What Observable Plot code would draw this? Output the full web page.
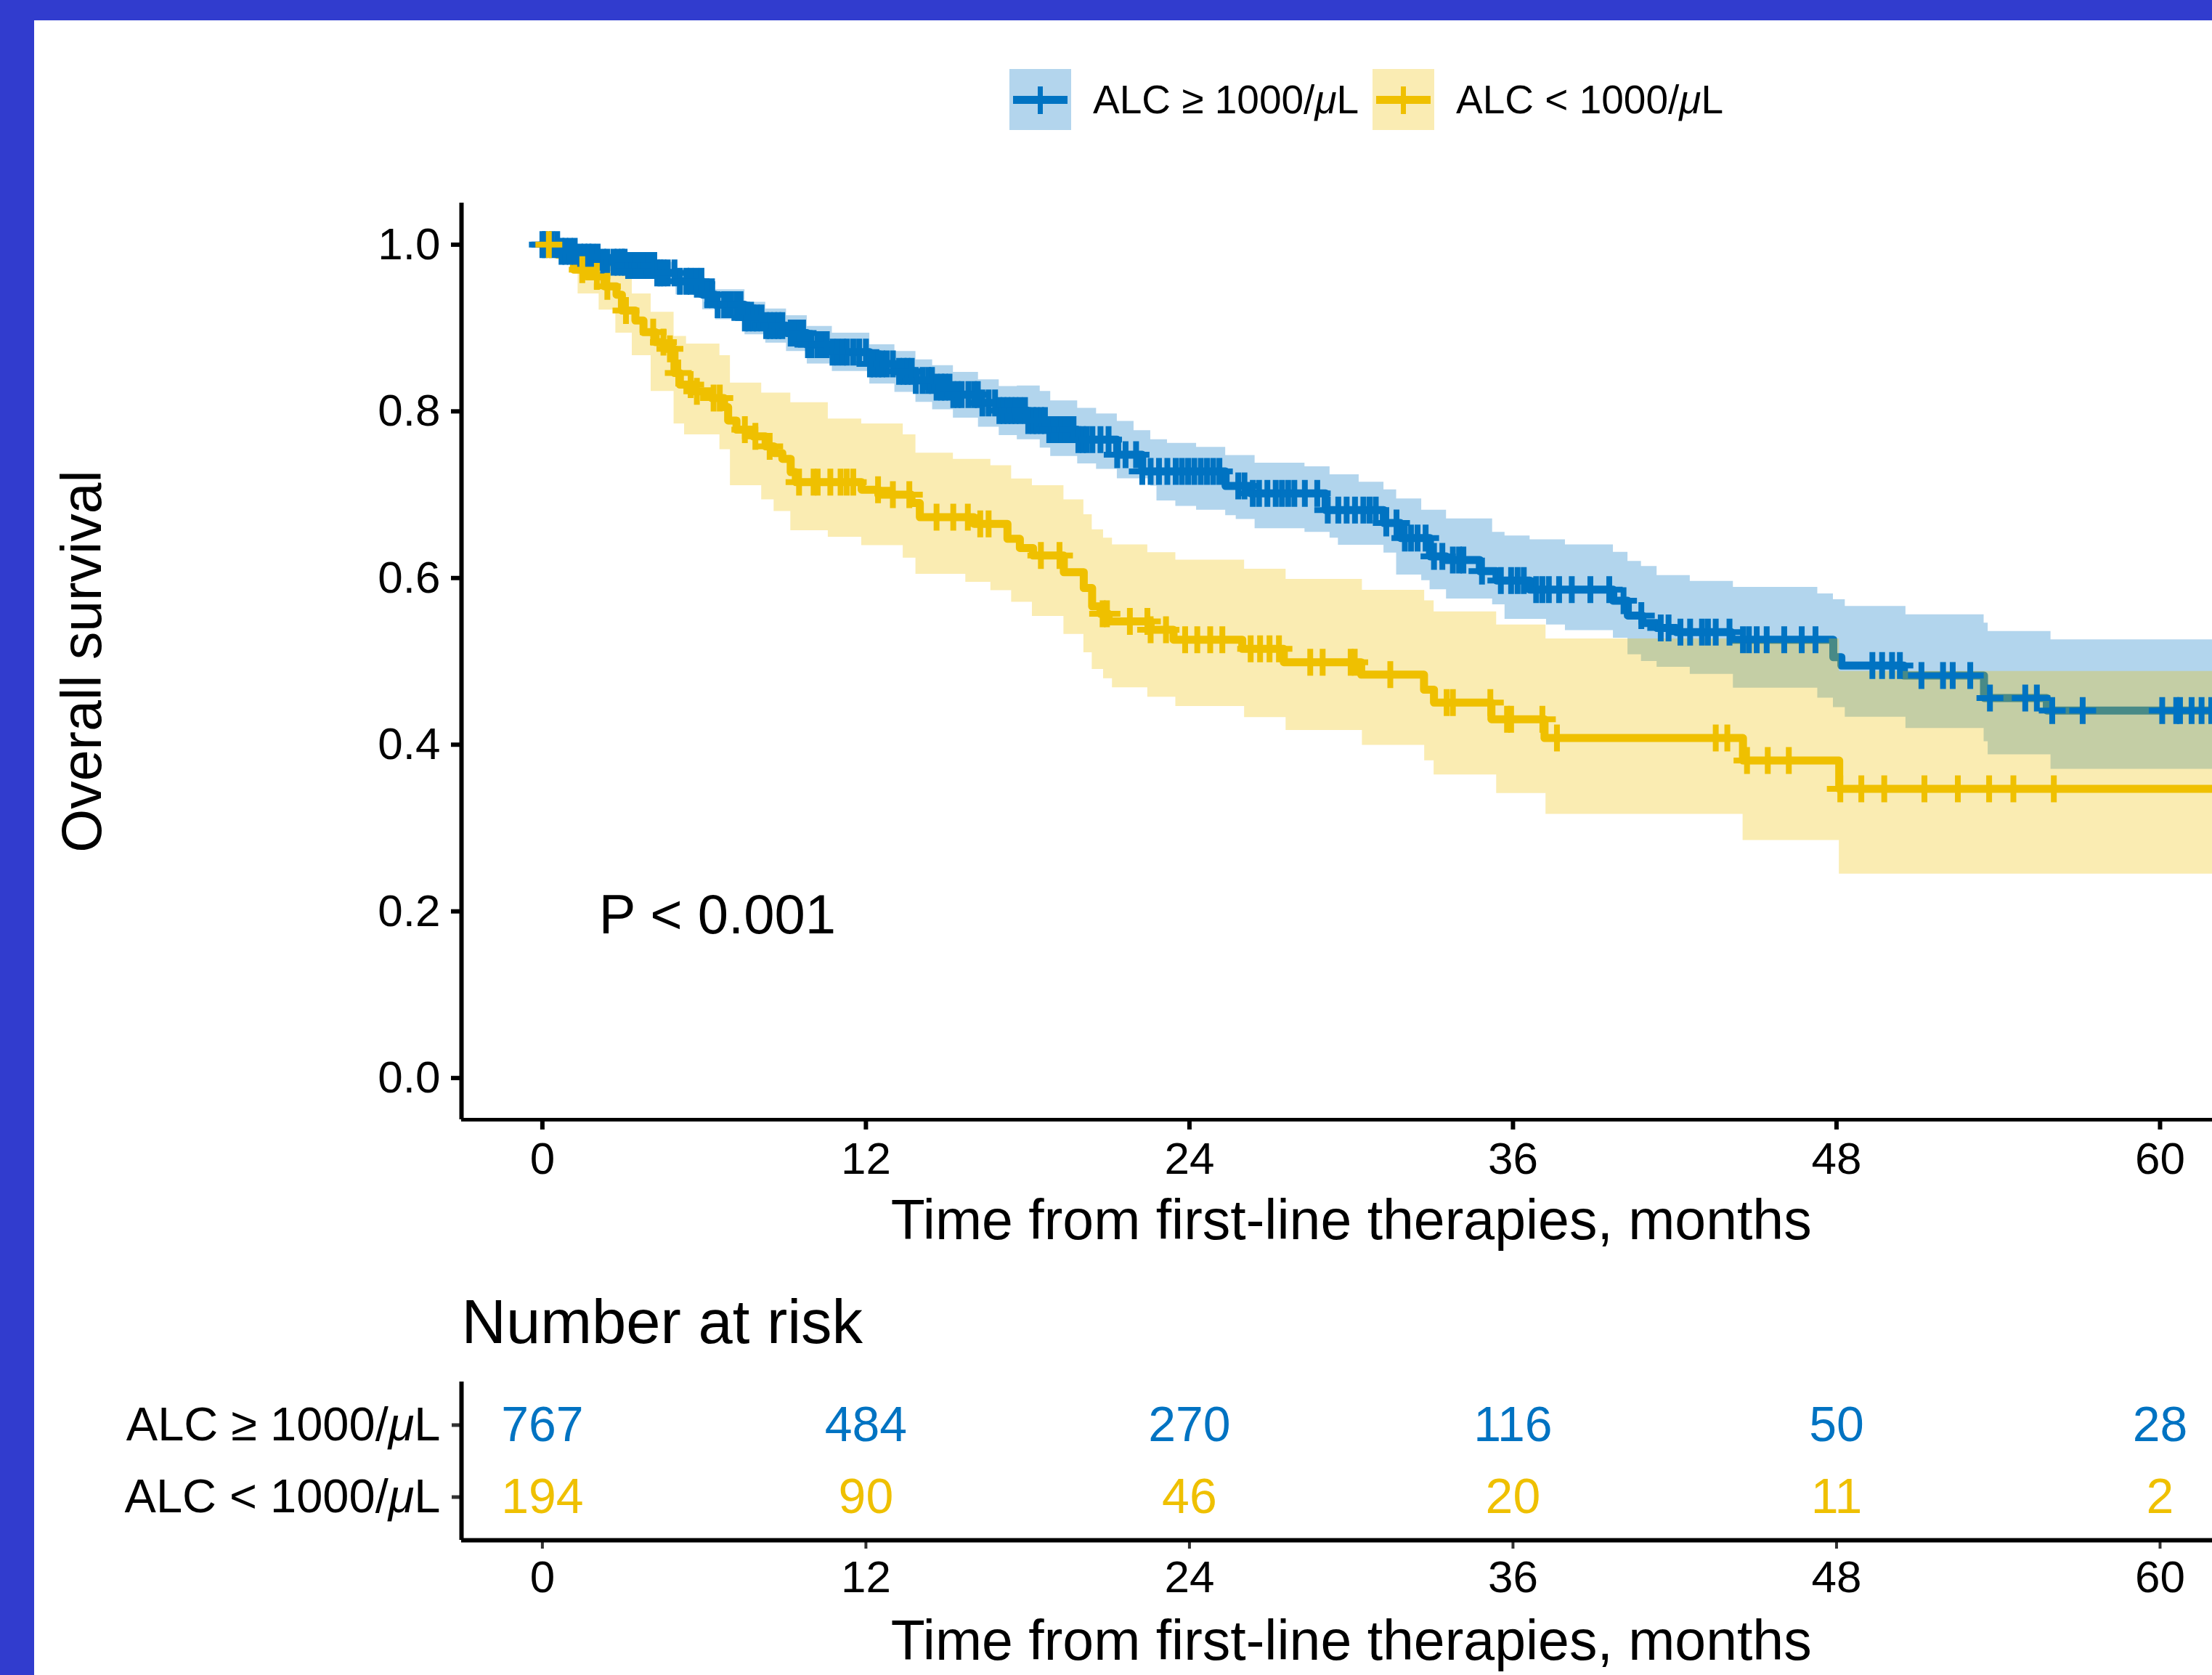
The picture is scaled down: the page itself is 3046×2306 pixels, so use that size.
<!DOCTYPE html>
<html>
<head>
<meta charset="utf-8">
<script src="https://cdn.jsdelivr.net/npm/d3@7"></script>
<script src="https://cdn.jsdelivr.net/npm/@observablehq/plot@0.6"></script>
<style>
  html, body { margin: 0; padding: 0; background: #ffffff; overflow: hidden; }
  #wrap { position: relative; width: 3046px; height: 2306px; overflow: hidden; background: #ffffff;
          font-family: "Liberation Sans", Arial, Helvetica, sans-serif; }
  #wrap > svg { display: block; }
  .bar { position: absolute; background: #313CCE; }
  .leg { position: absolute; top: 95px; height: 84px; display: flex; align-items: center;
         font-size: 55px; color: #000; white-space: nowrap; }
  .leg svg { display: block; margin-right: 30px; }
</style>
</head>
<body>
<div id="wrap"></div>
<script>
// ---------------- DATA ----------------
const groups = ["ALC \u2265 1000/\u03bcL", "ALC < 1000/\u03bcL"];
const colors = ["#0073C2", "#EFC000"];

const xTicks = [0, 12, 24, 36, 48, 60];
const yTicks = [0, 0.2, 0.4, 0.6, 0.8, 1.0];

const xTitle = "Time from first-line therapies, months";
const yTitle = "Overall survival";
const riskTitle = "Number at risk";
const pValue = [{label: "P < 0.001", time: 2.1, surv: 0.195}];

// Kaplan-Meier step curve, ALC >= 1000 : [months, survival]
const blueCurve = [
  [0,1],[0.7,0.992],[1.3,0.985],[2.2,0.979],[3.15,0.975],[4.2,0.966],[4.95,0.956],[5.94,0.94],
  [6.42,0.928],[7.51,0.912],[8.28,0.903],[9.05,0.894],[9.82,0.880],[10.75,0.871],[12.14,0.857],
  [13.07,0.848],[13.85,0.837],[14.47,0.829],[15.24,0.820],[16.17,0.810],[16.94,0.801],[18.0,0.789],
  [18.69,0.778],[19.85,0.766],[21.32,0.748],[22.25,0.728],[25.34,0.7105],[26.27,0.7016],[29.05,0.6816],
  [31.21,0.666],[31.83,0.648],[32.92,0.626],[33.53,0.6216],[34.77,0.6083],[35.39,0.597],[36.63,0.586],
  [39.72,0.5727],[40.26,0.555],[40.8,0.546],[41.34,0.540],[42.06,0.535],[44.1,0.526],[47.88,0.505],
  [48.18,0.495],[50.5,0.483],[53.47,0.456],[55.8,0.441],[63,0.441]
];
// 95% CI band, ALC >= 1000 : [months, lower, upper]
const blueBand = [
  [0,1,1],[0.7,0.985,0.998],[1.3,0.976,0.993],[2.2,0.968,0.989],[3.15,0.962,0.986],[4.2,0.952,0.979],
  [4.95,0.940,0.971],[5.94,0.922,0.956],[6.42,0.910,0.946],[7.51,0.892,0.931],[8.28,0.882,0.923],
  [9.05,0.872,0.915],[9.82,0.857,0.902],[10.75,0.848,0.894],[12.14,0.833,0.880],[13.07,0.823,0.872],
  [13.85,0.811,0.862],[14.47,0.802,0.855],[15.24,0.792,0.847],[16.17,0.781,0.838],[16.94,0.771,0.830],
  [17.61,0.766,0.8305],[18.46,0.756,0.824],[18.85,0.746,0.8127],[19.85,0.737,0.8038],[20.55,0.7305,0.797],
  [21.32,0.7193,0.788],[21.94,0.7193,0.777],[22.56,0.7105,0.766],[22.79,0.6927,0.766],[23.18,0.6927,0.7616],
  [23.49,0.686,0.7616],[24.26,0.6816,0.757],[25.34,0.675,0.747],[25.73,0.6705,0.747],[26.43,0.6594,0.738],
  [28.28,0.655,0.7336],[29.21,0.648,0.724],[29.52,0.6394,0.724],[30.29,0.6394,0.715],[31.21,0.630,0.706],
  [31.68,0.6038,0.695],[32.61,0.597,0.6816],[32.92,0.586,0.6816],[33.53,0.575,0.671],[35.24,0.568,0.655],
  [35.7,0.5505,0.6505],[36.63,0.5505,0.646],[37.24,0.5438,0.646],[37.94,0.537,0.640],[39.72,0.528,0.631],
  [40.26,0.508,0.62],[40.76,0.500,0.614],[41.34,0.493,0.603],[42.57,0.4846,0.596],[44.17,0.468,0.589],
  [47.3,0.456,0.581],[47.88,0.4446,0.574],[48.32,0.433,0.566],[50.57,0.4196,0.556],[53.47,0.4036,0.546],
  [53.62,0.388,0.536],[55.95,0.3706,0.526],[63,0.3706,0.526]
];
// censoring times, ALC >= 1000
const blueCensor = [
  0.0,0.09,0.35,0.55,0.71,0.85,1.02,1.2,1.4,1.56,1.71,1.85,2.05,2.25,2.41,2.64,2.79,2.95,3.05,3.18,3.33,
  3.45,3.57,3.7,3.80,3.92,4.03,4.15,4.26,4.38,4.49,4.65,4.9,5.1,5.34,5.5,5.7,5.9,6.12,6.3,6.5,6.74,6.89,
  7.0,7.2,7.35,7.51,7.65,7.82,7.95,8.13,8.3,8.44,8.6,8.75,8.9,9.21,9.35,9.52,9.67,9.85,9.98,10.2,10.37,
  10.55,10.76,10.95,11.15,11.3,11.53,11.75,12.0,12.15,12.3,12.46,12.6,12.77,13.0,13.23,13.4,13.54,13.7,
  13.85,14.1,14.31,14.45,14.62,14.8,14.93,15.1,15.24,15.4,15.55,15.8,16.01,16.15,16.32,16.55,16.79,
  16.95,17.1,17.25,17.4,17.55,17.71,17.9,18.02,18.2,18.33,18.5,18.64,18.8,18.95,19.1,19.26,19.4,19.57,
  19.7,19.88,20.05,20.19,20.4,20.7,21.0,21.32,21.63,22.02,22.25,22.56,22.87,23.18,23.49,
  23.72,23.95,24.18,24.42,24.65,24.88,25.11,25.81,26.04,26.35,26.58,26.89,27.2,27.43,27.66,27.89,28.28,
  28.74,29.13,29.52,29.83,30.14,30.45,30.68,30.91,31.3,31.68,31.99,32.22,32.46,32.76,33.07,33.38,33.77,
  34.0,34.16,34.85,35.55,35.93,36.17,36.4,36.86,37.09,37.33,37.71,38.18,38.87,39.57,40.1,40.76,41.48,
  41.77,42.21,42.57,43.01,43.23,43.52,44.03,44.53,44.75,45.04,45.41,46.06,46.71,47.22,49.33,49.69,50.06,
  50.35,51.15,51.95,52.31,52.96,53.69,55.0,55.43,56.0,57.13,60.08,60.6,60.74,61.17,61.54,61.9
];

// Kaplan-Meier step curve, ALC < 1000 : [months, survival]
const yellowCurve = [
  [0,1],[0.55,0.988],[1.17,0.970],[1.63,0.962],[2.3,0.950],[2.75,0.940],[2.95,0.921],[3.45,0.909],
  [3.75,0.895],[4.2,0.883],[4.5,0.875],[4.9,0.846],[5.1,0.832],[5.65,0.824],[6.27,0.816],[6.74,0.805],
  [6.89,0.789],[7.2,0.778],[7.82,0.770],[8.28,0.758],[8.59,0.750],[8.9,0.743],[9.21,0.727],[9.4,0.715],
  [11.84,0.706],[12.46,0.700],[13.69,0.690],[14.0,0.673],[16.01,0.665],[17.25,0.647],[17.71,0.636],
  [18.2,0.627],[19.34,0.607],[20.08,0.588],[20.39,0.566],[20.7,0.557],[21.0,0.548],[22.56,0.538],
  [23.41,0.526],[25.96,0.515],[27.5,0.499],[30.37,0.484],[32.7,0.466],[33.07,0.4505],[35.2,0.4305],
  [37.17,0.408],[44.53,0.381],[48.1,0.347],[63,0.347]
];
// 95% CI band, ALC < 1000 : [months, lower, upper]
const yellowBand = [
  [0,1,1],[0.71,0.982,1.0],[1.32,0.941,0.995],[1.94,0.941,0.9855],[2.10,0.9216,0.9855],[2.72,0.894,0.975],
  [2.87,0.894,0.964],[3.33,0.867,0.941],[4.03,0.824,0.919],[4.88,0.785,0.890],[5.27,0.772,0.890],
  [5.34,0.772,0.881],[6.58,0.754,0.867],[6.97,0.711,0.834],[8.13,0.694,0.822],[8.59,0.680,0.822],
  [9.21,0.657,0.8105],[10.6,0.649,0.791],[11.84,0.639,0.785],[13.38,0.624,0.772],[13.85,0.6045,0.750],
  [15.24,0.6045,0.7425],[15.7,0.595,0.7425],[16.63,0.585,0.735],[17.4,0.571,0.719],[18.17,0.554,0.711],
  [19.34,0.5325,0.694],[20.08,0.5105,0.676],[20.39,0.4904,0.658],[20.81,0.4794,0.648],[21.14,0.4683,0.640],
  [22.45,0.4571,0.6306],[23.49,0.446,0.6216],[26.04,0.4327,0.6106],[27.58,0.4172,0.5984],[30.41,0.3994,0.5854],
  [32.72,0.3807,0.5727],[33.07,0.3638,0.5594],[35.39,0.3416,0.5438],[37.22,0.3165,0.527],[44.53,0.2852,0.527],
  [48.1,0.2448,0.488],[63,0.2448,0.488]
];
// censoring times, ALC < 1000
const yellowCensor = [
  0.24,1.48,2.02,2.41,3.10,4.11,4.49,4.73,5.04,5.50,5.73,6.35,6.58,7.51,7.90,8.43,9.52,10.06,10.21,10.68,
  11.06,11.29,11.53,12.45,13.0,13.61,14.62,15.24,15.78,16.24,16.55,18.49,19.18,20.78,20.94,21.79,22.44,
  22.56,23.13,23.84,24.29,24.77,25.22,26.27,26.62,26.97,27.32,28.48,28.94,29.98,30.13,31.45,33.54,33.77,
  35.16,35.78,35.93,37.09,37.63,43.52,43.95,44.68,45.45,46.23,48.14,48.92,49.77,51.26,52.5,53.66,54.56,56.06
];

// number at risk table
const riskTimes = [0, 12, 24, 36, 48, 60];
const riskHigh = [767, 484, 270, 116, 50, 28];
const riskLow = [194, 90, 46, 20, 11, 2];

// ---------------- DRAWING ----------------
(function () {
const FONT = "Liberation Sans, Arial, Helvetica, sans-serif";
const xDomain = [-3, 61.94];          // visible part of the panel (ggplot expands 0..60 by 5%)
const xTitleAt = d3.mean([-3, 63]);   // centre of the full expanded panel

function survivalAt(curve, t) {
  let v = curve[0][1];
  for (const [tt, s] of curve) { if (tt <= t) v = s; else break; }
  return v;
}
const crossSymbol = {
  draw(ctx, size) {
    const h = Math.sqrt(size / Math.PI);
    ctx.moveTo(-h, 0); ctx.lineTo(h, 0);
    ctx.moveTo(0, -h); ctx.lineTo(0, h);
  }
};
const T = d => d[0];

const mainPlot = Plot.plot({
  width: 3046, height: 1742,
  marginLeft: 635, marginRight: 0, marginTop: 279, marginBottom: 201,
  style: {fontFamily: FONT, background: "transparent", overflow: "visible", color: "#000"},
  x: {domain: xDomain},
  y: {domain: [-0.05, 1.05]},
  marks: [
    Plot.line(blueCurve, {x: T, y: d => d[1], curve: "step-after", stroke: colors[0], strokeWidth: 11, strokeLinejoin: "round"}),
    Plot.line(yellowCurve, {x: T, y: d => d[1], curve: "step-after", stroke: colors[1], strokeWidth: 11, strokeLinejoin: "round"}),
    Plot.areaY(blueBand, {x: T, y1: d => d[1], y2: d => d[2], curve: "step-after", fill: colors[0], fillOpacity: 0.3}),
    Plot.areaY(yellowBand, {x: T, y1: d => d[1], y2: d => d[2], curve: "step-after", fill: colors[1], fillOpacity: 0.3}),
    Plot.dot(blueCensor, {x: d => d, y: d => survivalAt(blueCurve, d), symbol: crossSymbol, r: 18.5, fill: "none", stroke: colors[0], strokeWidth: 8}),
    Plot.dot(yellowCensor, {x: d => d, y: d => survivalAt(yellowCurve, d), symbol: crossSymbol, r: 18.5, fill: "none", stroke: colors[1], strokeWidth: 8}),
    Plot.axisX({ticks: xTicks, tickSize: 14, tickPadding: 16, fontSize: 62, strokeWidth: 6, label: null}),
    Plot.axisY({ticks: yTicks, tickFormat: d3.format(".1f"), tickSize: 14, tickPadding: 15, fontSize: 62, strokeWidth: 6, label: null}),
    Plot.ruleX([xDomain[0]], {stroke: "#000", strokeWidth: 6}),
    Plot.ruleY([-0.05], {stroke: "#000", strokeWidth: 5}),
    Plot.text(pValue, {x: "time", y: "surv", text: "label", textAnchor: "start", lineAnchor: "middle", fontSize: 76, fill: "#000"}),
    Plot.text([xTitle], {x: xTitleAt, frameAnchor: "bottom", lineAnchor: "middle", textAnchor: "middle", dy: 140, fontSize: 77, fill: "#000"}),
    Plot.text([yTitle], {frameAnchor: "left", lineAnchor: "middle", textAnchor: "middle", dx: -521, rotate: -90, fontSize: 77, fill: "#000"})
  ]
});

const rowHigh = riskTimes.map((t, i) => ({time: t, n: riskHigh[i]}));
const rowLow = riskTimes.map((t, i) => ({time: t, n: riskLow[i]}));

const riskPlot = Plot.plot({
  width: 3046, height: 564,
  marginLeft: 635, marginRight: 0, marginTop: 160, marginBottom: 186,
  style: {fontFamily: FONT, background: "transparent", overflow: "visible", color: "#000"},
  x: {domain: xDomain},
  y: {domain: [0.4, 2.6]},
  marks: [
    Plot.text(rowHigh, {x: "time", y: () => 2, text: "n", fill: colors[0], fontSize: 68}),
    Plot.text(rowLow, {x: "time", y: () => 1, text: "n", fill: colors[1], fontSize: 68}),
    Plot.axisX({ticks: xTicks, tickSize: 12, tickPadding: 15, fontSize: 62, stroke: "#333", strokeWidth: 4, fill: "#000", label: null}),
    Plot.axisY({ticks: [1, 2], tickFormat: d => groups[2 - d], tickSize: 13, tickPadding: 16, fontSize: 65, stroke: "#333", strokeWidth: 5, fill: "#000", label: null}),
    Plot.ruleX([xDomain[0]], {stroke: "#000", strokeWidth: 6}),
    Plot.ruleY([0.4], {stroke: "#000", strokeWidth: 6}),
    Plot.text([xTitle], {x: xTitleAt, frameAnchor: "bottom", lineAnchor: "middle", textAnchor: "middle", dy: 140, fontSize: 77, fill: "#000"}),
    Plot.text([riskTitle], {frameAnchor: "top-left", lineAnchor: "middle", textAnchor: "start", dy: -81, fontSize: 85, fill: "#000"})
  ]
});

// italic mu, as in the original plotmath labels
riskPlot.querySelectorAll("text").forEach(t => {
  const s = t.textContent;
  if (s.includes("\u03bc") && t.querySelectorAll("tspan").length === 0) {
    const [a, b] = s.split("\u03bc");
    t.textContent = "";
    t.appendChild(document.createTextNode(a));
    const ts = document.createElementNS("http://www.w3.org/2000/svg", "tspan");
    ts.setAttribute("font-style", "italic");
    ts.textContent = "\u03bc";
    t.appendChild(ts);
    t.appendChild(document.createTextNode(b));
  }
});

const wrap = document.getElementById("wrap");
wrap.appendChild(mainPlot);
wrap.appendChild(riskPlot);

// legend (above the plot)
const legendLeft = [1390, 1890];
const lightFill = ["#B3D5ED", "#FAECB3"];
groups.forEach((g, i) => {
  const div = document.createElement("div");
  div.className = "leg";
  div.style.left = legendLeft[i] + "px";
  div.innerHTML =
    `<svg width="85" height="84" viewBox="0 0 85 84">
       <rect x="0" y="0" width="85" height="84" fill="${lightFill[i]}"/>
       <line x1="5" x2="80" y1="42.5" y2="42.5" stroke="${colors[i]}" stroke-width="11"/>
       <line x1="42.5" x2="42.5" y1="24" y2="62" stroke="${colors[i]}" stroke-width="7"/>
     </svg><span>${g.replace("\u03bc", "<i>\u03bc</i>")}</span>`;
  wrap.appendChild(div);
});

// blue frame of the screenshot
const barTop = document.createElement("div");
barTop.className = "bar";
Object.assign(barTop.style, {left: "0px", top: "0px", width: "3046px", height: "28px"});
const barLeft = document.createElement("div");
barLeft.className = "bar";
Object.assign(barLeft.style, {left: "0px", top: "0px", width: "47px", height: "2306px"});
wrap.appendChild(barTop);
wrap.appendChild(barLeft);
})();
</script>
</body>
</html>
